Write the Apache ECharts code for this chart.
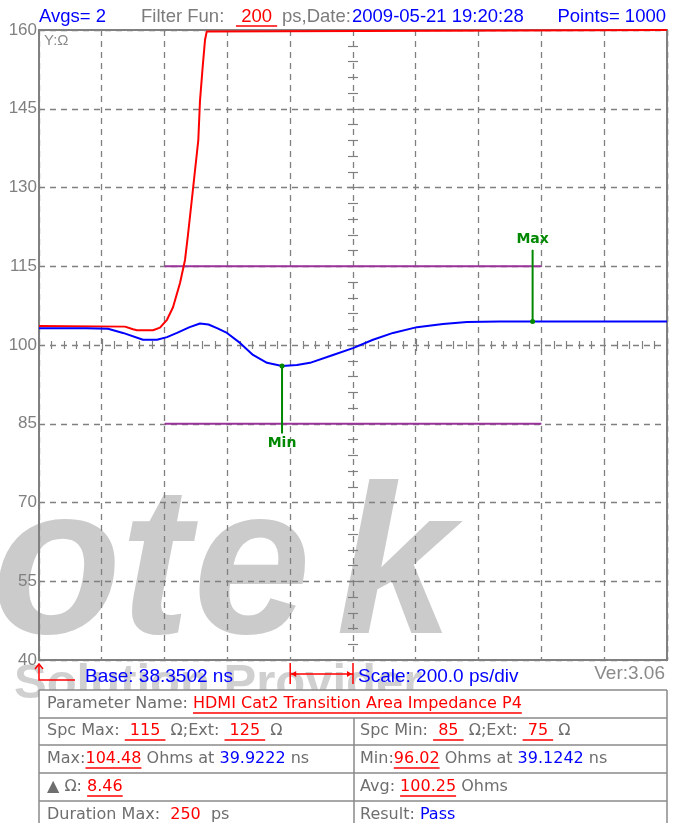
<!DOCTYPE html>
<html><head><meta charset="utf-8">
<script src="https://cdn.jsdelivr.net/npm/echarts@6/dist/echarts.min.js"></script>
<style>html,body{margin:0;padding:0;background:#fff}#c{width:676px;height:823px}</style>
</head><body><div id="c"></div>
<script>
// ---------------- data ----------------
const BASE_NS = 38.3502;          // Base: 38.3502 ns
const NS_PER_DIV = 0.2;           // Scale: 200.0 ps/div
const DIVS = 10;
const Y_MIN = 40, Y_MAX = 160, Y_STEP = 15;

// blue: measured impedance (time ns, ohm)
const blueTime = [38.3502, 38.5000, 38.5699, 38.6177, 38.6814, 38.7260, 38.7578, 38.7897, 38.8300, 38.8629, 38.8900, 38.9171, 38.9489, 38.9903, 39.0317, 39.0763, 39.1242, 39.1718, 39.2133, 39.2865, 39.3502, 39.4139, 39.4776, 39.5540, 39.6368, 39.7132, 39.8183, 39.9222, 40.0731, 40.3502];
const blueOhm  = [103.2, 103.2, 103.1, 102.3, 101.0, 101.0, 101.5, 102.3, 103.4, 104.1, 103.9, 103.2, 102.3, 100.4, 98.1, 96.6, 96.02, 96.2, 96.6, 98.1, 99.4, 101.0, 102.3, 103.4, 104.0, 104.4, 104.46, 104.48, 104.48, 104.48];

// red: reference trace
const redTime = [38.3502, 38.6241, 38.6496, 38.6623, 38.7133, 38.7355, 38.7578, 38.7770, 38.7993, 38.8152, 38.8247, 38.8375, 38.8575, 38.8629, 38.8715, 38.8789, 38.8843, 38.8884, 40.3502];
const redOhm  = [103.6, 103.5, 103.0, 102.8, 102.8, 103.3, 104.8, 107.2, 111.8, 116.2, 121.0, 128.0, 139.0, 146.5, 153.0, 158.1, 159.7, 160, 160];

// spec limits
const specMax = 115, specMin = 85;
const specStartNs = 38.7502, specEndNs = 39.9502;

// max / min markers
const maxAtNs = 39.9222, maxOhm = 104.48, maxMarkTop = 118.1;
const minAtNs = 39.1242, minOhm = 96.02, minMarkBottom = 83.2;

// texts
const headerAvgs = 'Avgs= 2';
const headerFilterLabel = 'Filter Fun:';
const headerFilterValue = ' 200 ';
const headerDateLabel = 'ps,Date:';
const headerDate = '2009-05-21 19:20:28';
const headerPoints = 'Points= 1000';
const yUnitLabel = 'Y:Ω';
const baseText = 'Base: 38.3502 ns';
const scaleText = 'Scale: 200.0 ps/div';
const verText = 'Ver:3.06';
const watermarkLetters = ['o', 't', 'e', 'k'];
const watermarkSmall = 'Solution Provider';

const paramName = 'HDMI Cat2 Transition Area Impedance P4';
const spcMaxV = '115', spcMaxExt = '125', spcMinV = '85', spcMinExt = '75';
const measMax = '104.48', measMaxAt = '39.9222', measMin = '96.02', measMinAt = '39.1242';
const deltaOhm = '8.46', avgOhm = '100.25', durationMax = '250', resultText = 'Pass';

// ---------------- chart ----------------
const BLUE = '#0000ff', RED = '#ff0000', GRAY = '#7c7c7c', GREEN = '#008800', PURPLE = '#993399';
const LINEGRAY = '#808080';
const dash = { color: LINEGRAY, width: 1.3, type: [6, 5] };

const chart = echarts.init(document.getElementById('c'), null, { renderer: 'canvas' });

function centerAxisX(inside) {
  return { type: 'value', min: -1, max: 1, interval: 0.2,
    axisLine: { show: false, onZero: true, onZeroAxisIndex: 1 },
    axisTick: { show: true, inside: inside, length: 6, lineStyle: { color: LINEGRAY, width: 1.2 } },
    minorTick: { show: true, splitNumber: 5, length: 4, lineStyle: { color: LINEGRAY, width: 1.2 } },
    axisLabel: { show: false }, splitLine: { show: false } };
}
function centerAxisY(inside) {
  return { type: 'value', min: -60, max: 60, interval: 15,
    axisLine: { show: false, onZero: true, onZeroAxisIndex: 1 },
    axisTick: { show: true, inside: inside, length: 5, lineStyle: { color: LINEGRAY, width: 1.2 } },
    minorTick: { show: true, splitNumber: 5, length: 5, lineStyle: { color: LINEGRAY, width: 1.2 } },
    axisLabel: { show: false }, splitLine: { show: false } };
}

const zip = (a, b) => a.map((v, i) => [v, b[i]]);
const markLabel = (txt, pos) => ({ show: true, position: pos, distance: 3, formatter: txt, color: GREEN, fontSize: 14, fontWeight: 'bold', fontFamily: 'DejaVu Sans' });

const option = {
  animation: false,
  backgroundColor: '#ffffff',
  grid: { left: 39, right: 9, top: 30, bottom: 163, show: true, borderColor: LINEGRAY, borderWidth: 2, backgroundColor: 'rgba(0,0,0,0)' },
  xAxis: [
    { type: 'value', min: BASE_NS, max: BASE_NS + DIVS * NS_PER_DIV, interval: NS_PER_DIV,
      axisLine: { show: false, onZero: false }, axisTick: { show: false }, axisLabel: { show: false },
      splitLine: { show: true, lineStyle: dash } },
    centerAxisX(true), centerAxisX(false)
  ],
  yAxis: [
    { type: 'value', min: Y_MIN, max: Y_MAX, interval: Y_STEP,
      axisLine: { show: false, onZero: false }, axisTick: { show: false },
      axisLabel: { color: '#808080', fontSize: 17, fontFamily: 'Liberation Sans', margin: 2 },
      splitLine: { show: true, lineStyle: dash } },
    { type: 'value', min: -60, max: 60, show: false, axisLine: { onZero: false } },
    centerAxisY(true), centerAxisY(false)
  ],
  series: [
    { type: 'line', name: 'spcMax', data: [[specStartNs, specMax], [specEndNs, specMax]], symbol: 'none', lineStyle: { color: PURPLE, width: 2 }, z: 3 },
    { type: 'line', name: 'spcMin', data: [[specStartNs, specMin], [specEndNs, specMin]], symbol: 'none', lineStyle: { color: PURPLE, width: 2 }, z: 3 },
    { type: 'line', name: 'red', data: zip(redTime, redOhm), symbol: 'none', lineStyle: { color: RED, width: 2 }, z: 4 },
    { type: 'line', name: 'blue', data: zip(blueTime, blueOhm), symbol: 'none', lineStyle: { color: BLUE, width: 2 }, z: 5 },
    { type: 'line', name: 'Max', showSymbol: true, symbol: 'circle', z: 6, lineStyle: { color: GREEN, width: 2 }, itemStyle: { color: GREEN },
      data: [ { value: [maxAtNs, maxOhm], symbolSize: 5 },
              { value: [maxAtNs, maxMarkTop], symbolSize: 1, label: markLabel('Max', 'top') } ] },
    { type: 'line', name: 'Min', showSymbol: true, symbol: 'circle', z: 6, lineStyle: { color: GREEN, width: 2 }, itemStyle: { color: GREEN },
      data: [ { value: [minAtNs, minOhm], symbolSize: 5 },
              { value: [minAtNs, minMarkBottom], symbolSize: 1, label: markLabel('Min', 'bottom') } ] }
  ]
};
chart.setOption(option);

// ---------------- decorations (text, table) ----------------
const mctx = document.createElement('canvas').getContext('2d');
function tw(t, font) { mctx.font = font; return mctx.measureText(t).width; }

const els = [];
function addRuns(x, y, parts, font, ulOff, z, alignRight) {
  let total = 0; parts.forEach(p => total += tw(p.t, font));
  let cx = alignRight ? x - total : x;
  parts.forEach(p => {
    const w = tw(p.t, font);
    els.push({ type: 'text', x: cx, y: y, z: z, style: { text: p.t, fill: p.c, font: font, textAlign: 'left', textVerticalAlign: 'middle', verticalAlign: 'middle' } });
    if (p.u) {
      els.push({ type: 'line', z: z, shape: { x1: cx, y1: y + ulOff, x2: cx + w, y2: y + ulOff }, style: { stroke: p.uc || p.c, lineWidth: 1.5 } });
    }
    cx += w;
  });
}

// watermark (behind the grid)
const WMF = 'italic bold 212px "Liberation Sans"';
const wmX = [-8, 120, 193, 336];
watermarkLetters.forEach((ch, i) => {
  els.push({ type: 'text', x: wmX[i], y: 575, z: -5, style: { text: ch, fill: '#cbcbcb', font: WMF, verticalAlign: 'middle', textVerticalAlign: 'middle' } });
});
els.push({ type: 'text', x: 14, y: 684, z: -5, style: { text: watermarkSmall, fill: '#d0d0d0', font: 'bold 49px "Liberation Sans"', verticalAlign: 'middle', textVerticalAlign: 'middle' } });

const HF = '18.5px "Liberation Sans"';
addRuns(39, 17, [{ t: headerAvgs, c: BLUE }], HF, 9, 20);
addRuns(141, 17, [{ t: headerFilterLabel, c: GRAY }], HF, 9, 20);
addRuns(236, 17, [{ t: headerFilterValue, c: RED, u: true }], HF, 9, 20);
addRuns(282, 17, [{ t: headerDateLabel, c: GRAY }], HF, 9, 20);
addRuns(352, 17, [{ t: headerDate, c: BLUE }], HF, 9, 20);
addRuns(666, 17, [{ t: headerPoints, c: BLUE }], HF, 9, 20, true);

addRuns(44, 41, [{ t: yUnitLabel, c: '#8a8a8a' }], '15px "Liberation Sans"', 8, 20);

// bottom info line
const BF = '19px "Liberation Sans"';
addRuns(85, 677, [{ t: baseText, c: BLUE }], BF, 9, 20);
addRuns(358, 677, [{ t: scaleText, c: BLUE }], BF, 9, 20);
addRuns(665, 674, [{ t: verText, c: '#8a8a8a' }], BF, 9, 20, true);

// base arrow
els.push({ type: 'polyline', z: 20, shape: { points: [[75, 680], [39, 680], [39, 665]] }, style: { stroke: RED, lineWidth: 1.5, fill: null } });
els.push({ type: 'polyline', z: 20, shape: { points: [[35, 669], [39, 664], [43, 669]] }, style: { stroke: RED, lineWidth: 1.5, fill: null } });
// scale bracket (one division)
const bx1 = chart.convertToPixel({ xAxisIndex: 0 }, BASE_NS + 4 * NS_PER_DIV);
const bx2 = chart.convertToPixel({ xAxisIndex: 0 }, BASE_NS + 5 * NS_PER_DIV);
els.push({ type: 'line', z: 20, shape: { x1: bx1, y1: 663, x2: bx1, y2: 684 }, style: { stroke: RED, lineWidth: 1.5 } });
els.push({ type: 'line', z: 20, shape: { x1: bx2, y1: 663, x2: bx2, y2: 684 }, style: { stroke: RED, lineWidth: 1.5 } });
els.push({ type: 'line', z: 20, shape: { x1: bx1, y1: 674, x2: bx2, y2: 674 }, style: { stroke: RED, lineWidth: 1.5 } });
els.push({ type: 'polygon', z: 20, shape: { points: [[bx1 + 1, 674], [bx1 + 6, 671], [bx1 + 6, 677]] }, style: { fill: RED } });
els.push({ type: 'polygon', z: 20, shape: { points: [[bx2 - 1, 674], [bx2 - 6, 671], [bx2 - 6, 677]] }, style: { fill: RED } });

// table
const TL = 39, TR = 667, TC = 354;
const rowLines = [690, 718, 745, 773, 801, 829];
els.push({ type: 'rect', z: 15, shape: { x: TL, y: 690, width: TR - TL, height: 140 }, style: { fill: '#ffffff' } });
rowLines.forEach(y => els.push({ type: 'line', z: 16, shape: { x1: TL, y1: y, x2: TR, y2: y }, style: { stroke: '#8a8a8a', lineWidth: 1.5 } }));
[TL, TR].forEach(x => els.push({ type: 'line', z: 16, shape: { x1: x, y1: 690, x2: x, y2: 829 }, style: { stroke: '#8a8a8a', lineWidth: 1.5 } }));
els.push({ type: 'line', z: 16, shape: { x1: TC, y1: 718, x2: TC, y2: 829 }, style: { stroke: '#8a8a8a', lineWidth: 1.5 } });

const TF = '16px "DejaVu Sans"';
const LG = '#6e6e6e';
const UL = 9;
addRuns(47, 704, [{ t: 'Parameter Name: ', c: LG }, { t: paramName, c: RED, u: true }], TF, UL, 20);
addRuns(47, 731, [{ t: 'Spc Max: ', c: LG }, { t: ' ' + spcMaxV + ' ', c: RED, u: true }, { t: ' Ω;Ext: ', c: LG }, { t: ' ' + spcMaxExt + ' ', c: RED, u: true }, { t: ' Ω', c: LG }], TF, UL, 20);
addRuns(360, 731, [{ t: 'Spc Min: ', c: LG }, { t: ' ' + spcMinV + ' ', c: RED, u: true }, { t: ' Ω;Ext: ', c: LG }, { t: ' ' + spcMinExt + ' ', c: RED, u: true }, { t: ' Ω', c: LG }], TF, UL, 20);
addRuns(47, 759, [{ t: 'Max:', c: LG }, { t: measMax, c: RED, u: true }, { t: ' Ohms at ', c: LG }, { t: measMaxAt, c: BLUE }, { t: ' ns', c: LG }], TF, UL, 20);
addRuns(360, 759, [{ t: 'Min:', c: LG }, { t: measMin, c: RED, u: true }, { t: ' Ohms at ', c: LG }, { t: measMinAt, c: BLUE }, { t: ' ns', c: LG }], TF, UL, 20);
addRuns(47, 787, [{ t: '▲ Ω: ', c: LG }, { t: deltaOhm, c: RED, u: true }], TF, UL, 20);
addRuns(360, 787, [{ t: 'Avg: ', c: LG }, { t: avgOhm, c: RED, u: true }, { t: ' Ohms', c: LG }], TF, UL, 20);
addRuns(47, 815, [{ t: 'Duration Max: ', c: LG }, { t: ' ' + durationMax + ' ', c: RED, u: true }, { t: ' ps', c: LG }], TF, UL, 20);
addRuns(360, 815, [{ t: 'Result: ', c: LG }, { t: resultText, c: BLUE, u: true, uc: '#aab4ff' }], TF, UL, 20);

chart.setOption({ graphic: { elements: els } });
</script></body></html>
